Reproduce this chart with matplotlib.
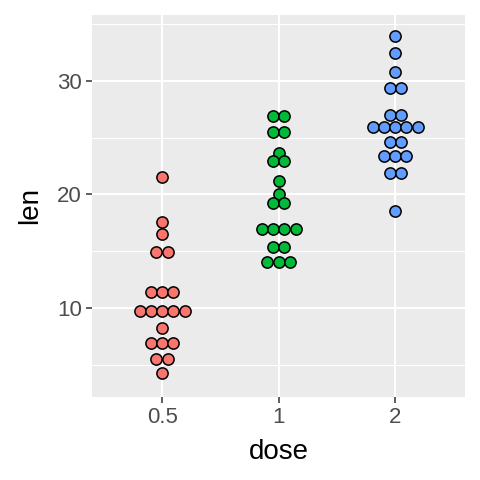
import numpy as np
import matplotlib
matplotlib.use('Agg')
import matplotlib.pyplot as plt

plt.rcParams['font.family'] = ['Liberation Sans', 'DejaVu Sans']

# dose categories and dot stacks (bin centre of len, number of dots)
doses = ['0.5', '1', '2']
colors = ['#F8766D', '#00BA38', '#619CFF']

len_05 = [21.5, 17.6, 16.5, 14.9, 11.35, 9.7, 8.2, 6.9, 5.5, 4.25]
cnt_05 = [1, 1, 1, 2, 3, 5, 1, 3, 2, 1]

len_1 = [26.9, 25.5, 23.6, 22.9, 21.2, 20.0, 19.2, 16.9, 15.4, 14.0]
cnt_1 = [2, 2, 1, 2, 1, 1, 2, 4, 2, 3]

len_2 = [33.9, 32.4, 30.8, 29.4, 26.95, 25.9, 24.6, 23.35, 21.9, 18.5]
cnt_2 = [1, 1, 1, 2, 2, 5, 2, 3, 2, 1]

stacks = [(len_05, cnt_05), (len_1, cnt_1), (len_2, cnt_2)]

BINWIDTH = 0.99
DPI = 100
fig = plt.figure(figsize=(4.8, 4.8), dpi=DPI)
ax = fig.add_axes([0.192, 0.173, 0.777, 0.796])

YMIN, YMAX = 2.15, 35.8
XMIN, XMAX = 0.4, 3.6
ax.set_ylim(YMIN, YMAX)
ax.set_xlim(XMIN, XMAX)

# size of one dot: binwidth in y, same size across in x
ax_w = 0.777 * 4.8 * DPI
ax_h = 0.796 * 4.8 * DPI
px_per_y = ax_h / (YMAX - YMIN)
px_per_x = ax_w / (XMAX - XMIN)
dot_px = BINWIDTH * px_per_y
dx = dot_px / px_per_x
s = (dot_px * 72 / DPI) ** 2

for i, (vals, cnts) in enumerate(stacks):
    xs, ys = [], []
    for v, n in zip(vals, cnts):
        for k in range(n):
            xs.append(i + 1 + (k - (n - 1) / 2) * dx)
            ys.append(v)
    ax.scatter(xs, ys, s=s, color=colors[i], edgecolor='black',
               linewidth=1.1, zorder=3)

# ggplot grey look
ax.set_facecolor('#EBEBEB')
for sp in ax.spines.values():
    sp.set_visible(False)
ax.set_yticks([10, 20, 30])
ax.set_yticks([5, 15, 25, 35], minor=True)
ax.set_xticks([1, 2, 3])
ax.set_xticklabels(doses)
ax.grid(which='major', color='white', linewidth=1.5, zorder=0)
ax.grid(which='minor', axis='y', color='white', linewidth=0.75, zorder=0)
ax.set_axisbelow(True)
ax.tick_params(which='major', length=4.3, width=1.1, color='#333333',
               labelsize=16, labelcolor='#4D4D4D', pad=3)
ax.tick_params(which='minor', length=0)

ax.set_xlabel('dose', fontsize=20, color='black', labelpad=8)
ax.set_ylabel('len', fontsize=20, color='black', labelpad=10)

fig.savefig('out.png', dpi=DPI)
